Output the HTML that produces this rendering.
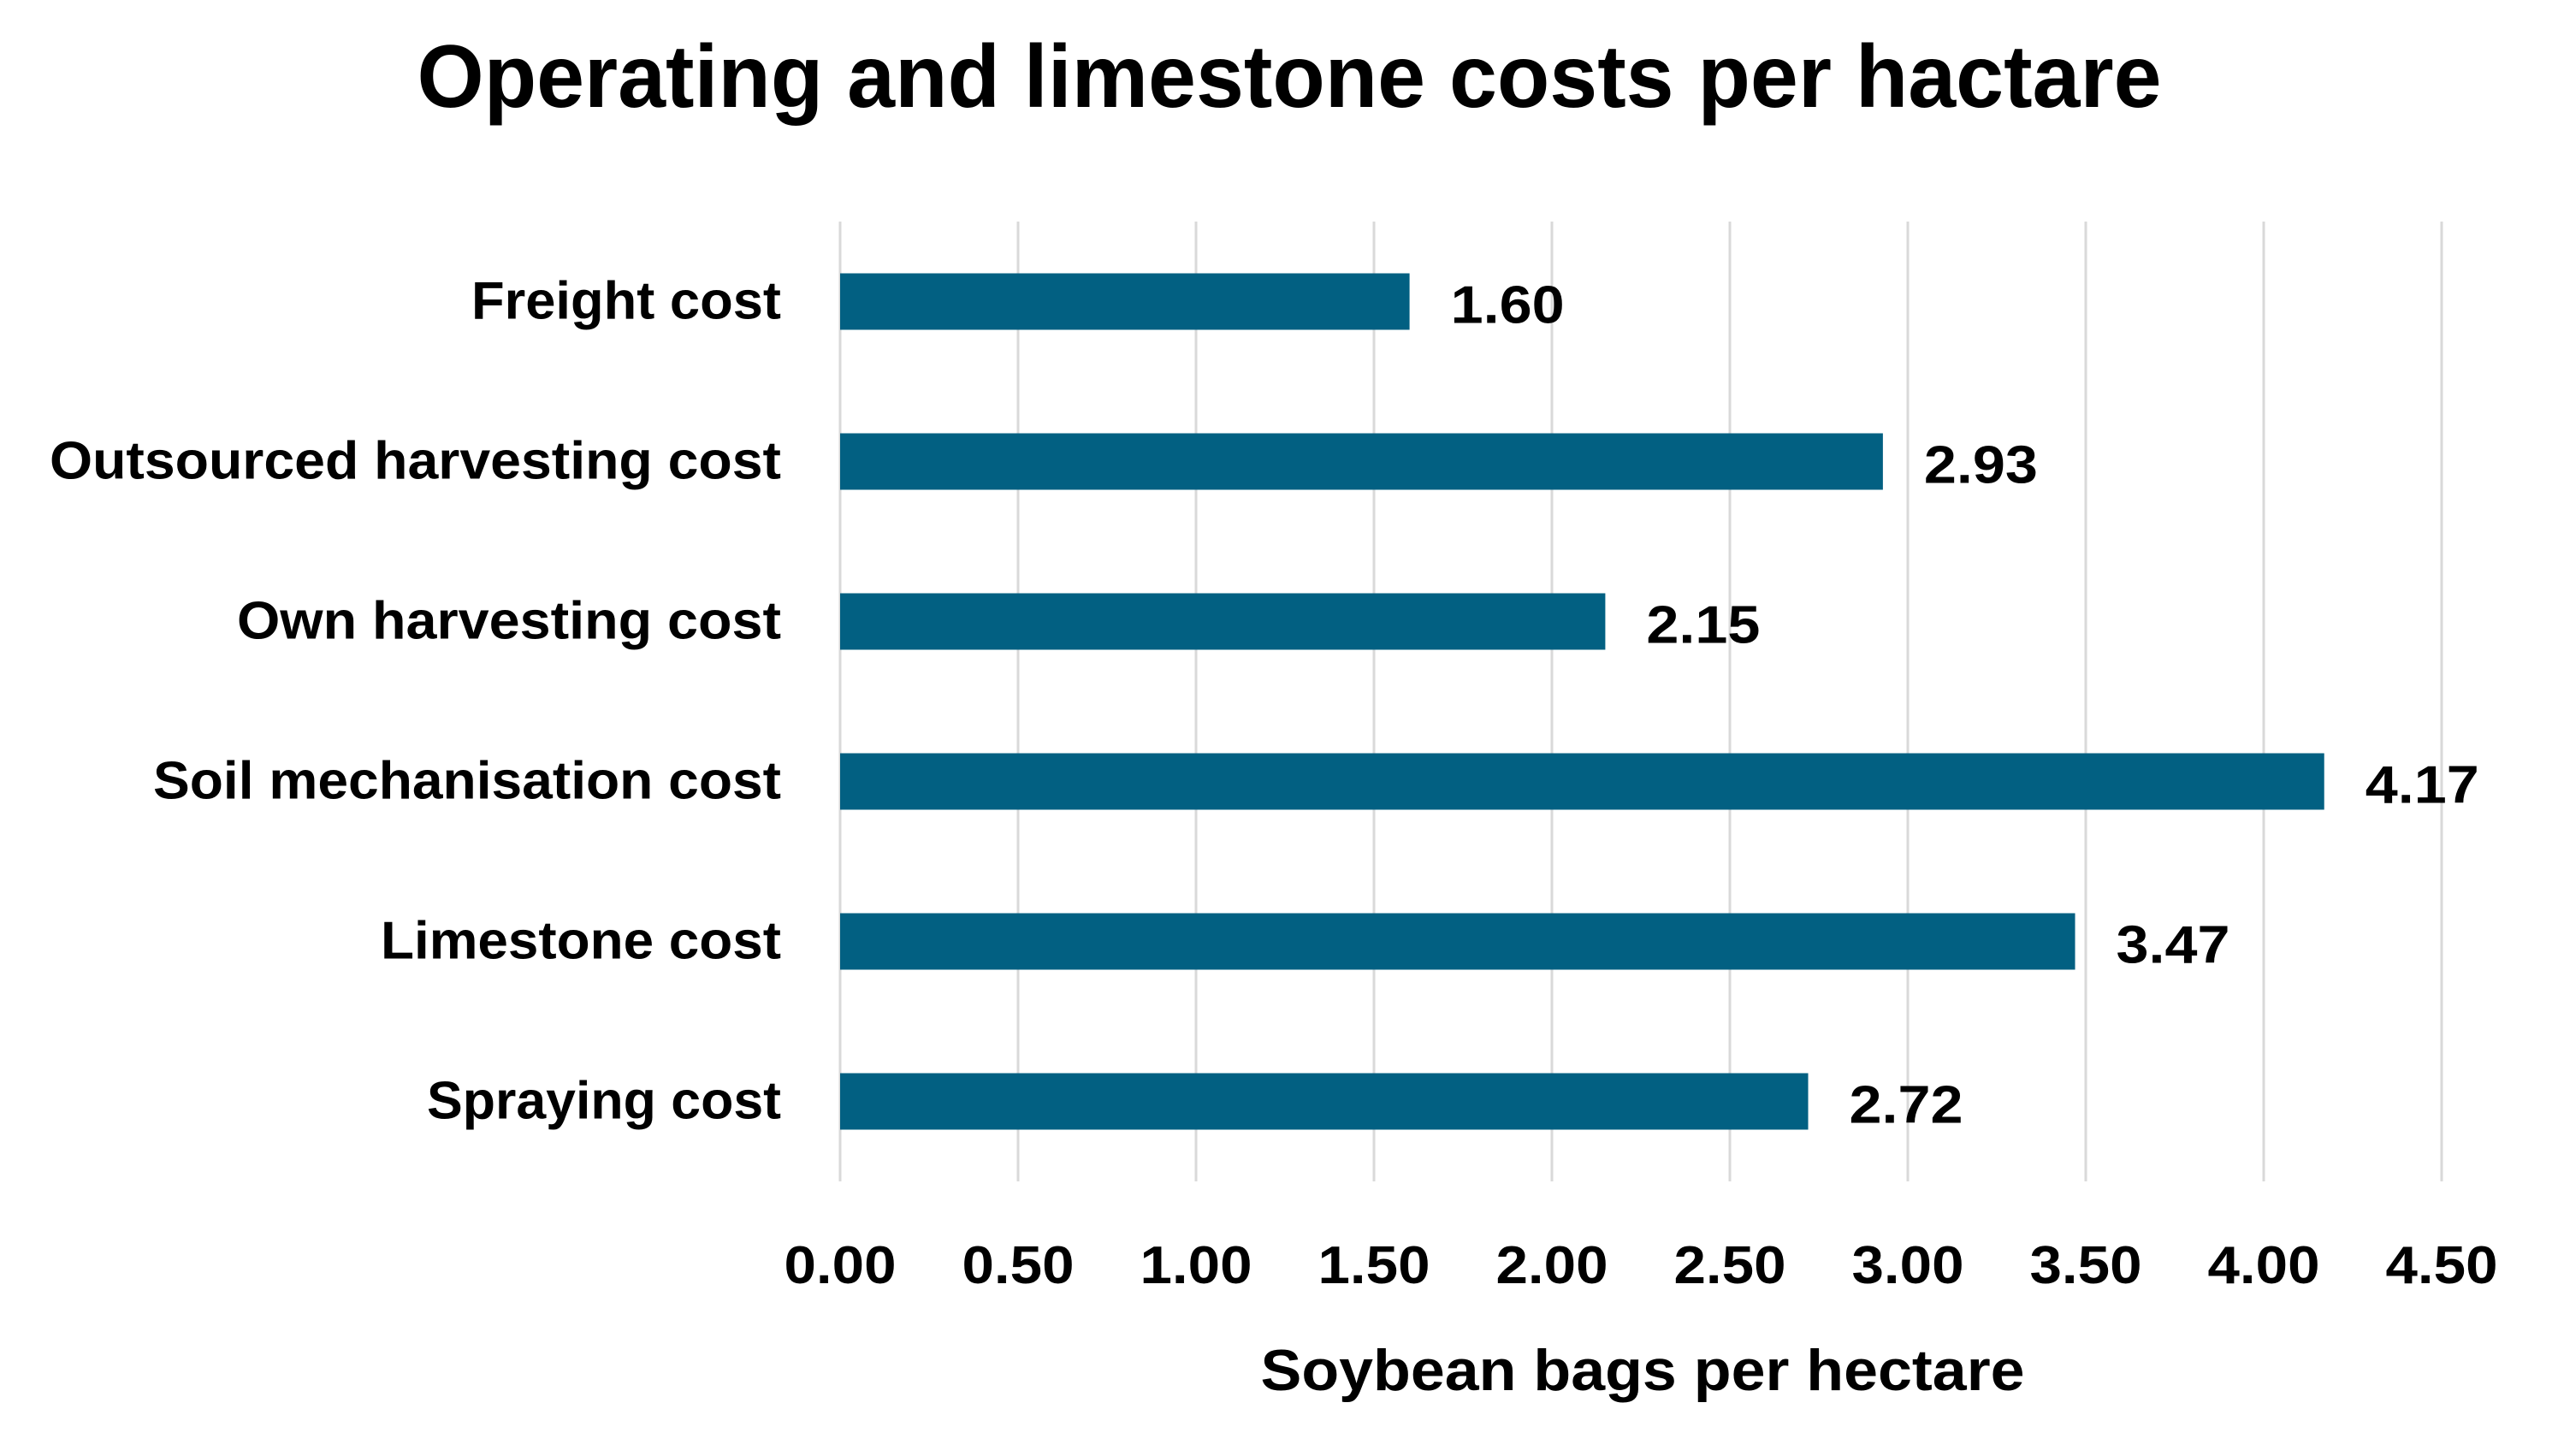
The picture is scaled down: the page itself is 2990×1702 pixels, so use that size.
<!DOCTYPE html>
<html><head><meta charset="utf-8"><style>
html,body{margin:0;padding:0;background:#fff;}
svg{display:block;}
text{font-family:"Liberation Sans",sans-serif;font-weight:bold;fill:#000;}
</style></head><body>
<svg id="chart" width="2990" height="1702" viewBox="0 0 2990 1702" xmlns="http://www.w3.org/2000/svg">
<rect width="2990" height="1702" fill="#fff"/>
<text x="1507" y="125" text-anchor="middle" font-size="104" textLength="2039" lengthAdjust="spacingAndGlyphs">Operating and limestone costs per hactare</text>
<g id="grid"></g><g id="bars"></g><g id="labels"></g>
<text x="1920" y="1625" text-anchor="middle" font-size="68" textLength="893" lengthAdjust="spacingAndGlyphs">Soybean bags per hectare</text>
</svg>
<script>
const categories = ["Freight cost","Outsourced harvesting cost","Own harvesting cost","Soil mechanisation cost","Limestone cost","Spraying cost"];
const values = [1.60,2.93,2.15,4.17,3.47,2.72];
const valueLabels = ["1.60","2.93","2.15","4.17","3.47","2.72"];
const ticks = [0,0.5,1,1.5,2,2.5,3,3.5,4,4.5];
const tickLabels = ["0.00","0.50","1.00","1.50","2.00","2.50","3.00","3.50","4.00","4.50"];

const NS="http://www.w3.org/2000/svg";
const x0=982, xMax=4.5, xEnd=2854, yTop=259, yBot=1381;
const xs=v=>x0+(v/xMax)*(xEnd-x0);
const band=(yBot-yTop)/categories.length;
const yc=i=>yTop+(i+0.5)*band;
function mk(tag,attrs,parent){const e=document.createElementNS(NS,tag);for(const k in attrs)e.setAttribute(k,attrs[k]);parent.appendChild(e);return e;}
const grid=document.getElementById('grid'),bars=document.getElementById('bars'),labels=document.getElementById('labels');
ticks.forEach((t,i)=>{
  const l=mk('line',{x1:xs(t),x2:xs(t),y1:yTop,y2:yBot,stroke:'#d9d9d9','stroke-width':3},grid);
  
  
  const tx=mk('text',{x:xs(t),y:1500,'text-anchor':'middle','font-size':62,textLength:131,lengthAdjust:'spacingAndGlyphs'},labels);
  tx.textContent=tickLabels[i];
  
  
});
const catW=[362,855,636,734,468,414];
categories.forEach((c,i)=>{
  const y=yc(i);
  const r=mk('rect',{x:x0,y:y-33,width:xs(values[i])-x0,height:66,fill:'#026082'},bars);
  
  
  const ct=mk('text',{x:913,y:y+20,'text-anchor':'end','font-size':62,textLength:catW[i],lengthAdjust:'spacingAndGlyphs'},labels);
  ct.textContent=c;
  
  
  const vt=mk('text',{x:xs(values[i])+48,y:y+25,'font-size':62,textLength:133,lengthAdjust:'spacingAndGlyphs'},labels);
  vt.textContent=valueLabels[i];
  
  
});
</script>
</body></html>
